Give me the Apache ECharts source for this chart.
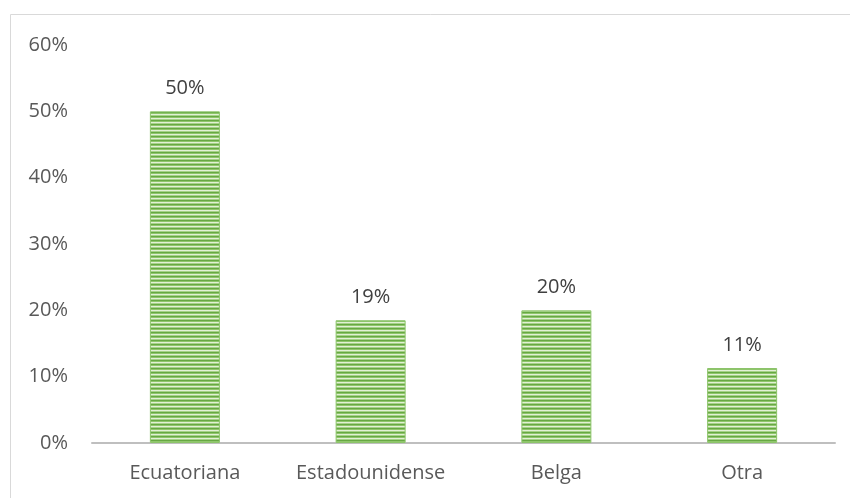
<!DOCTYPE html>
<html>
<head>
<meta charset="utf-8">
<script src="https://cdn.jsdelivr.net/npm/echarts@6/dist/echarts.min.js"></script>
<style>
  html, body { margin: 0; padding: 0; background: #fff; }
  #chart { width: 850px; height: 498px; }
</style>
</head>
<body>
<div id="chart"></div>
<script>
// datos
const categories = ['Ecuatoriana', 'Estadounidense', 'Belga', 'Otra'];
const values = [50, 18.5, 20, 11.3];
const yTicks = [0, 10, 20, 30, 40, 50, 60];

// patrón de rayas horizontales para las barras
const makeStripes = () => {
  const c = document.createElement('canvas');
  c.width = 4;
  c.height = 4;
  const ctx = c.getContext('2d');
  const rows = ['#67a843', '#8fc66b', '#e2f0d6', '#a6d289'];
  rows.forEach((col, i) => {
    ctx.fillStyle = col;
    ctx.fillRect(0, i, 4, 1);
  });
  return c;
};

const myChart = echarts.init(document.getElementById('chart'));
const font = '"Open Sans", "Liberation Sans", sans-serif';

const option = {
  animation: false,
  grid: { left: 92, right: 15, top: 45, bottom: 55 },
  graphic: [
    { type: 'line', shape: { x1: 10.5, y1: 14.5, x2: 850, y2: 14.5 }, style: { stroke: '#d9d9d9', lineWidth: 1 } },
    { type: 'line', shape: { x1: 10.5, y1: 14.5, x2: 10.5, y2: 498 }, style: { stroke: '#d9d9d9', lineWidth: 1 } }
  ],
  xAxis: {
    type: 'category',
    data: categories,
    axisTick: { show: false },
    axisLine: { lineStyle: { color: '#bfbfbf', width: 2 } },
    axisLabel: { color: '#595959', fontSize: 20, fontFamily: font, margin: 20, interval: 0, hideOverlap: false }
  },
  yAxis: {
    type: 'value',
    min: yTicks[0],
    max: yTicks[yTicks.length - 1],
    interval: 10,
    splitLine: { show: false },
    axisLine: { show: false },
    axisTick: { show: false },
    axisLabel: { color: '#595959', fontSize: 20, fontFamily: font, margin: 24, formatter: '{value}%' }
  },
  series: [
    {
      type: 'bar',
      data: values,
      barWidth: 70,
      itemStyle: {
        color: { image: makeStripes(), repeat: 'repeat' },
        borderColor: '#8cc46a',
        borderWidth: 1
      },
      label: {
        show: true,
        position: 'top',
        distance: 13,
        color: '#404040',
        fontSize: 20,
        fontFamily: font,
        formatter: (p) => Math.round(p.value) + '%'
      }
    }
  ]
};
myChart.setOption(option);
</script>
</body>
</html>
